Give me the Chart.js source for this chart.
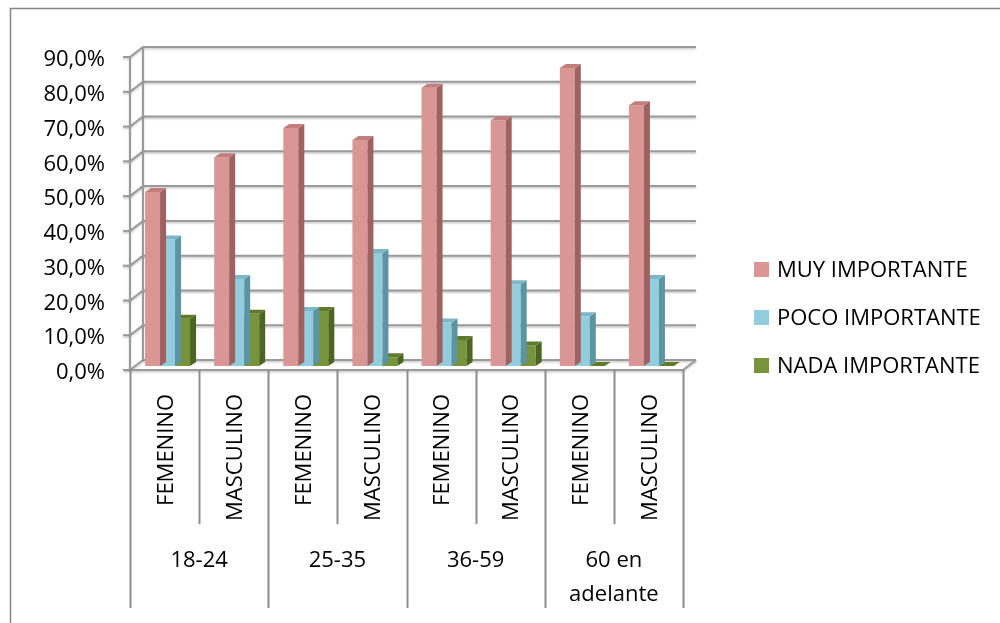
<!DOCTYPE html>
<html>
<head>
<meta charset="utf-8">
<script src="https://cdn.jsdelivr.net/npm/chart.js@4/dist/chart.umd.min.js"></script>
<style>
  html, body { margin: 0; padding: 0; background: #fff; }
  #wrap { width: 1000px; height: 623px; }
</style>
</head>
<body>
<div id="wrap"><canvas id="grafico" width="1000" height="623"></canvas></div>
<script>
// categorías (sexo) y grupos de edad
const categorias = ['FEMENINO', 'MASCULINO', 'FEMENINO', 'MASCULINO', 'FEMENINO', 'MASCULINO', 'FEMENINO', 'MASCULINO'];
const grupos = [['18-24'], ['25-35'], ['36-59'], ['60 en', 'adelante']];

// porcentajes por serie
const muyImportante  = [50.0, 60.0, 68.4, 65.0, 80.0, 70.6, 85.7, 75.0];
const pocoImportante = [36.4, 25.0, 15.8, 32.5, 12.5, 23.5, 14.3, 25.0];
const nadaImportante = [13.6, 15.0, 15.8, 2.5, 7.5, 5.9, 0, 0];

const series = ['MUY IMPORTANTE', 'POCO IMPORTANTE', 'NADA IMPORTANTE'];

const FUENTE = '22px "Open Sans"';
const colores = [
    { frente: '#D99694', lado: '#9E6260', arriba: '#C27E7C' },
    { frente: '#93CDDD', lado: '#5D94A4', arriba: '#7DB6C6' },
    { frente: '#77933C', lado: '#4D6523', arriba: '#5E7A2B' }
];

// desplazamientos del efecto 3D respecto al plano de las barras
const FRENTE = { dx: -3, dy: 4 };
const FONDO = { dx: 10, dy: -6 };
const PROF = { dx: 6, dy: -4 };

function fmtPct(v) {
    return v.toFixed(1).replace('.', ',') + '%';
}

function lineaGris(ctx, pts, ancho) {
    ctx.save();
    ctx.strokeStyle = '#9a9a9a';
    ctx.lineWidth = ancho || 2;
    ctx.shadowColor = 'rgba(0,0,0,0.22)';
    ctx.shadowBlur = 2;
    ctx.shadowOffsetY = 1.5;
    ctx.beginPath();
    ctx.moveTo(pts[0][0], pts[0][1]);
    for (let i = 1; i < pts.length; i++) ctx.lineTo(pts[i][0], pts[i][1]);
    ctx.stroke();
    ctx.restore();
}

// paredes, rejilla y etiquetas de ejes
const fondo3D = {
    id: 'fondo3D',
    beforeDatasetsDraw(chart) {
        const ctx = chart.ctx;
        const a = chart.chartArea;
        const y = chart.scales.y;
        const x = chart.scales.x;

        // marco
        ctx.save();
        ctx.strokeStyle = '#878787';
        ctx.lineWidth = 1.5;
        ctx.strokeRect(10.5, 8.5, 1200, 800);
        ctx.restore();

        const izqF = a.left + FRENTE.dx, derF = a.right + FRENTE.dx;
        const izqB = a.left + FONDO.dx, derB = a.right + FONDO.dx;

        // líneas de la pared del fondo y diagonales de la pared izquierda
        y.ticks.forEach(t => {
            const py = y.getPixelForValue(t.value);
            const yF = py + FRENTE.dy, yB = py + FONDO.dy;
            lineaGris(ctx, [[izqF, yF], [izqB, yB], [derB, yB]]);
            lineaGris(ctx, [[izqF - 7, yF], [izqF, yF]]);
        });
        const topB = y.getPixelForValue(y.max) + FONDO.dy;
        const baseB = y.getPixelForValue(0) + FONDO.dy;
        const topF = y.getPixelForValue(y.max) + FRENTE.dy;
        const baseF = y.getPixelForValue(0) + FRENTE.dy;
        lineaGris(ctx, [[izqB, topB], [izqB, baseB]]);
        lineaGris(ctx, [[izqF, topF], [izqF, baseF]]);
        // borde del piso
        lineaGris(ctx, [[izqF, baseF], [derF, baseF], [derB, baseB]]);

        // etiquetas del eje Y
        ctx.save();
        ctx.font = FUENTE;
        ctx.fillStyle = '#000';
        ctx.textAlign = 'right';
        ctx.textBaseline = 'middle';
        y.ticks.forEach(t => {
            const py = y.getPixelForValue(t.value) + FRENTE.dy;
            ctx.fillText(fmtPct(t.value), izqF - 25, py + 3);
        });
        ctx.restore();

        // tabla de categorías bajo el eje X
        const w = (a.right - a.left) / categorias.length;
        ctx.save();
        ctx.strokeStyle = '#8c8c8c';
        ctx.lineWidth = 2;
        for (let i = 0; i <= categorias.length; i++) {
            const px = Math.round(izqF + i * w) + 0.5;
            const fin = (i % 2 === 0) ? 608 : 524;
            ctx.beginPath();
            ctx.moveTo(px, baseF);
            ctx.lineTo(px, fin);
            ctx.stroke();
        }
        ctx.font = FUENTE;
        ctx.fillStyle = '#000';
        categorias.forEach((c, i) => {
            const px = x.getPixelForValue(i) + FRENTE.dx + 2;
            ctx.save();
            ctx.translate(px, baseF + 24);
            ctx.rotate(-Math.PI / 2);
            ctx.textAlign = 'right';
            ctx.textBaseline = 'middle';
            ctx.fillText(c, 0, 0);
            ctx.restore();
        });
        ctx.textAlign = 'center';
        ctx.textBaseline = 'middle';
        grupos.forEach((g, j) => {
            const px = izqF + (2 * j + 1) * w;
            g.forEach((linea, k) => {
                ctx.fillText(linea, px, 561 + k * 34);
            });
        });
        ctx.restore();
    },
    // caras laterales y superiores de cada barra
    afterDatasetDraw(chart, args) {
        const ctx = chart.ctx;
        const col = colores[args.index];
        args.meta.data.forEach(bar => {
            const p = bar.getProps(['x', 'y', 'base', 'width'], true);
            const l = p.x - p.width / 2, r = p.x + p.width / 2;
            ctx.save();
            ctx.fillStyle = col.lado;
            ctx.beginPath();
            ctx.moveTo(r, p.y);
            ctx.lineTo(r + PROF.dx, p.y + PROF.dy);
            ctx.lineTo(r + PROF.dx, p.base + PROF.dy);
            ctx.lineTo(r, p.base);
            ctx.closePath();
            ctx.fill();
            ctx.fillStyle = col.arriba;
            ctx.beginPath();
            ctx.moveTo(l, p.y);
            ctx.lineTo(r, p.y);
            ctx.lineTo(r + PROF.dx, p.y + PROF.dy);
            ctx.lineTo(l + PROF.dx, p.y + PROF.dy);
            ctx.closePath();
            ctx.fill();
            ctx.restore();
        });
    },
    // leyenda a la derecha
    afterDraw(chart) {
        const ctx = chart.ctx;
        ctx.save();
        ctx.font = FUENTE;
        ctx.textAlign = 'left';
        ctx.textBaseline = 'middle';
        chart.data.datasets.forEach((ds, i) => {
            const cy = 270 + i * 48;
            ctx.fillStyle = ds.backgroundColor;
            ctx.fillRect(754, cy - 8, 15, 15);
            ctx.fillStyle = '#000';
            ctx.fillText(ds.label, 777, cy + 1);
        });
        ctx.restore();
    }
};

new Chart(document.getElementById('grafico'), {
    type: 'bar',
    data: {
        labels: categorias,
        datasets: [
            { label: series[0], data: muyImportante, backgroundColor: colores[0].frente },
            { label: series[1], data: pocoImportante, backgroundColor: colores[1].frente },
            { label: series[2], data: nadaImportante, backgroundColor: colores[2].frente }
        ]
    },
    options: {
        responsive: false,
        animation: false,
        layout: { padding: { left: 133, right: 314, top: 53, bottom: 257 } },
        datasets: { bar: { categoryPercentage: 0.651, barPercentage: 1.0, borderWidth: 0 } },
        scales: {
            x: { display: false },
            y: { display: false, min: 0, max: 90, ticks: { stepSize: 10 } }
        },
        plugins: {
            legend: { display: false },
            tooltip: { enabled: false }
        }
    },
    plugins: [fondo3D]
});
</script>
</body>
</html>
